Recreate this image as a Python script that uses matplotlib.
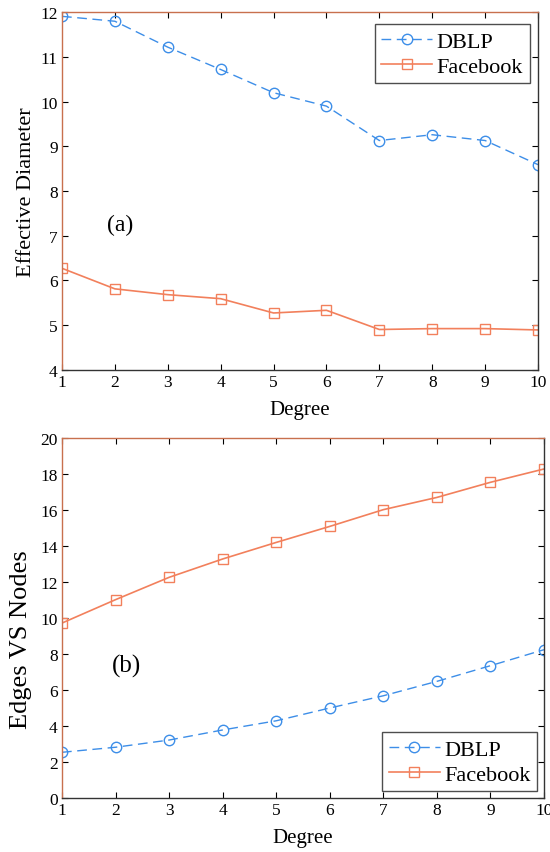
import matplotlib
matplotlib.use("Agg")
import matplotlib.pyplot as plt

# ------- data -------
degree = [1, 2, 3, 4, 5, 6, 7, 8, 9, 10]
dblp_diam = [11.91, 11.80, 11.22, 10.72, 10.20, 9.90, 9.13, 9.26, 9.13, 8.59]
fb_diam = [6.27, 5.81, 5.68, 5.59, 5.27, 5.33, 4.90, 4.92, 4.92, 4.89]
dblp_ratio = [2.54, 2.82, 3.22, 3.78, 4.29, 5.00, 5.68, 6.48, 7.35, 8.24]
fb_ratio = [9.72, 11.02, 12.26, 13.28, 14.20, 15.09, 16.02, 16.70, 17.54, 18.28]

plt.rcParams['font.family'] = ['Liberation Serif', 'DejaVu Serif']
blue = "#3d8ee8"
orange = "#f2805c"

fig = plt.figure(figsize=(5.5, 8.53), dpi=100)
ax1 = fig.add_axes([0.1127, 0.5654, 0.8655, 0.419])
ax2 = fig.add_axes([0.1127, 0.0633, 0.8763, 0.422])


def style(ax):
    ax.tick_params(direction="in", top=True, right=True, labelsize=12.5,
                   length=4, width=0.8, pad=3)
    for s in ["bottom", "right"]:
        ax.spines[s].set_color("#333333")
    for s in ["left", "top"]:
        ax.spines[s].set_color("#c8704e")
    for s in ax.spines.values():
        s.set_linewidth(1.0)
    ax.set_xlim(1, 10)
    ax.set_xticks(degree)
    ax.set_xlabel("Degree", fontsize=15, labelpad=7)


def legend(ax, loc, anchor):
    leg = ax.legend(loc=loc, fontsize=16, frameon=True, fancybox=False,
                    edgecolor="#222222", borderpad=0.3, handlelength=2.3,
                    handletextpad=0.2, labelspacing=0.2,
                    bbox_to_anchor=anchor, borderaxespad=0.3)
    leg.get_frame().set_linewidth(1.0)


# ------- (a) effective diameter -------
ax1.plot(degree, dblp_diam, color=blue, linestyle=(0, (7, 4)), lw=1.0,
         marker="o", markersize=7.5, markerfacecolor="none", markeredgewidth=1.0,
         label="DBLP")
ax1.plot(degree, fb_diam, color=orange, linestyle="-", lw=1.2,
         marker="s", markersize=7.5, markerfacecolor="none", markeredgewidth=1.0,
         label="Facebook")
ax1.set_ylim(4, 12)
ax1.set_yticks(range(4, 13))
ax1.set_ylabel("Effective Diameter", fontsize=16, labelpad=3)
style(ax1)
ax1.text(2.1, 7.26, "(a)", fontsize=17, ha="center", va="center")
legend(ax1, "upper right", (0.997, 0.985))

# ------- (b) edges vs nodes -------
ax2.plot(degree, dblp_ratio, color=blue, linestyle=(0, (7, 4)), lw=1.0,
         marker="o", markersize=7.5, markerfacecolor="none", markeredgewidth=1.0,
         label="DBLP")
ax2.plot(degree, fb_ratio, color=orange, linestyle="-", lw=1.2,
         marker="s", markersize=7.5, markerfacecolor="none", markeredgewidth=1.0,
         label="Facebook")
ax2.set_ylim(0, 20)
ax2.set_yticks(range(0, 21, 2))
ax2.set_ylabel("Edges VS Nodes", fontsize=19, labelpad=2)
ax2.yaxis.set_label_coords(-0.062, 0.444)
style(ax2)
ax2.text(2.2, 7.35, "(b)", fontsize=18, ha="center", va="center")
legend(ax2, "lower right", (1.0, 0.0))

fig.savefig("out.png", dpi=100)
